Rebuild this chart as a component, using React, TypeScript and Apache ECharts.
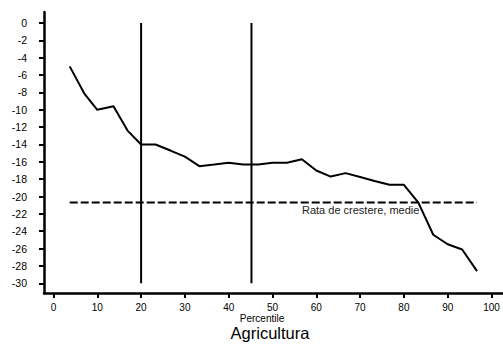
import { useEffect, useRef } from "react";
import * as echarts from "echarts";

const percentiles = [3.7, 7, 10, 13.7, 16.9, 20, 23.3, 26.7, 30, 33.3, 36.7, 40, 43.3, 46.7, 50, 53.3, 56.7, 60, 63.3, 66.7, 70, 73.3, 76.7, 80, 83.3, 86.7, 90, 93.3, 96.7];
const growth = [-5, -8.1, -10, -9.6, -12.4, -14, -14, -14.7, -15.4, -16.5, -16.3, -16.1, -16.3, -16.3, -16.1, -16.1, -15.7, -17, -17.7, -17.3, -17.75, -18.2, -18.65, -18.65, -20.7, -24.4, -25.5, -26.1, -28.6];
const thresholds = [20, 45.2];
const thresholdSpan = [0, -30];
const averageGrowth = -20.7;
const averageLabel = "Rata de crestere, medie";
const xRange = [0, 100, 10];
const yRange = [-30, 0, 2];
const xName = "Percentile";
const chartTitle = "Agricultura";

const FONT = "'Liberation Sans', Arial, sans-serif";

export default function App() {
  const ref = useRef<HTMLDivElement>(null);
  useEffect(() => {
    if (!ref.current) return;
    const chart = echarts.init(ref.current, null, { renderer: "svg" });
    const series: any[] = [
      {
        type: "line",
        data: percentiles.map((p, i) => [p, growth[i]]),
        symbol: "none",
        lineStyle: { color: "#000", width: 2 },
        z: 5,
      },
      ...thresholds.map((t) => ({
        type: "line",
        data: thresholdSpan.map((v) => [t, v]),
        symbol: "none",
        lineStyle: { color: "#000", width: 2 },
      })),
      {
        type: "line",
        data: [
          [percentiles[0], averageGrowth],
          [percentiles[percentiles.length - 1], averageGrowth],
        ],
        symbol: "none",
        lineStyle: { color: "#000", width: 2, type: [8, 3] },
      },
    ];
    chart.setOption({
      animation: false,
      grid: [
        { left: 53.5, right: 11.5, top: 23, bottom: 60.7 },
        { left: 44, right: 0, top: 12, bottom: 51 },
      ],
      xAxis: [
        {
          type: "value",
          gridIndex: 0,
          position: "bottom",
          min: xRange[0],
          max: xRange[1],
          interval: xRange[2],
          offset: 9.7,
          axisLine: { show: false, onZero: false },
          axisTick: { show: true, length: 5, lineStyle: { color: "#000", width: 2 } },
          axisLabel: { margin: 9, fontSize: 10, color: "#000", fontFamily: FONT },
          splitLine: { show: false },
        },
        {
          type: "value",
          gridIndex: 1,
          position: "bottom",
          axisLine: { show: true, onZero: false, lineStyle: { color: "#000", width: 2.5 } },
          axisTick: { show: false },
          axisLabel: { show: false },
          splitLine: { show: false },
        },
      ],
      yAxis: [
        {
          type: "value",
          gridIndex: 0,
          position: "left",
          min: yRange[0],
          max: yRange[1],
          interval: yRange[2],
          offset: 9.5,
          axisLine: { show: false, onZero: false },
          axisTick: { show: true, length: 5, lineStyle: { color: "#000", width: 2 } },
          axisLabel: { margin: 17, fontSize: 10.5, color: "#000", fontFamily: FONT },
          splitLine: { show: false },
        },
        {
          type: "value",
          gridIndex: 1,
          position: "left",
          axisLine: { show: true, onZero: false, lineStyle: { color: "#000", width: 2.5 } },
          axisTick: { show: false },
          axisLabel: { show: false },
          splitLine: { show: false },
        },
      ],
      graphic: [
        {
          type: "text",
          x: 302,
          y: 210,
          style: { text: averageLabel, fontSize: 11, fontFamily: FONT, fill: "#222", verticalAlign: "middle" },
          z: 10,
        },
        {
          type: "text",
          x: 262,
          y: 318,
          style: { text: xName, fontSize: 10, fontFamily: FONT, fill: "#000", align: "center", verticalAlign: "middle" },
        },
        {
          type: "text",
          x: 270,
          y: 333,
          style: { text: chartTitle, fontSize: 16.5, fontFamily: FONT, fill: "#000", align: "center", verticalAlign: "middle" },
        },
      ],
      series,
    });
    return () => chart.dispose();
  }, []);
  return <div ref={ref} style={{ width: 503, height: 344, position: "absolute", left: 0, top: 0 }} />;
}
